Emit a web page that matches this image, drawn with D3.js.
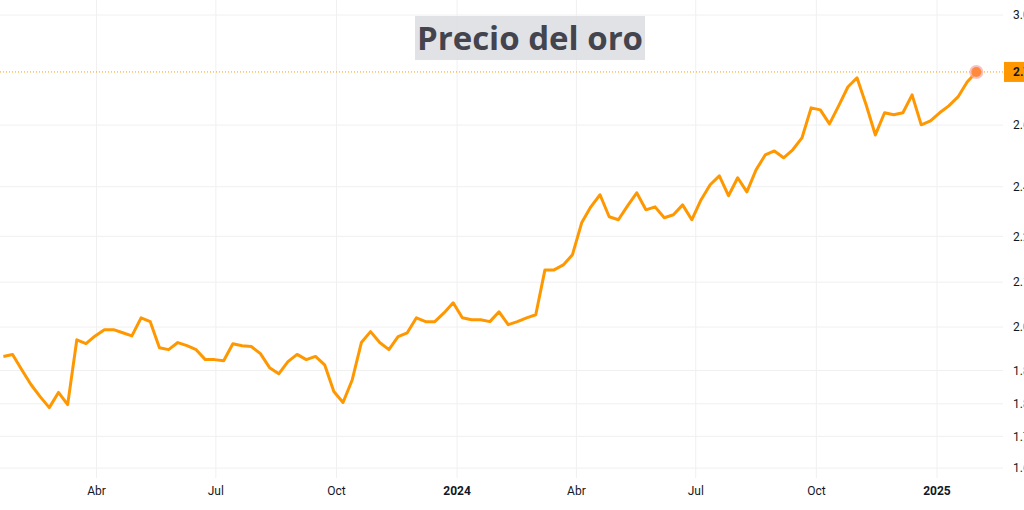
<!DOCTYPE html>
<html><head><meta charset="utf-8">
<script src="https://cdn.jsdelivr.net/npm/d3@7"></script>
<style>body{margin:0;background:#fff}svg{display:block}</style>
</head><body>
<svg id="c" width="1024" height="510"></svg>
<script>
const startDate = "2023-01-20";
const prices = [1925,1930,1892,1856,1827,1801,1837,1808,1967,1957,1977,1993,1993,1985,1977,2024,2014,1947,1942,1960,
1952,1942,1917,1917,1914,1957,1952,1950,1932,1897,1882,1912,1930,1917,1925,1904,1839,1813,1867,1960,
1988,1960,1942,1975,1985,2024,2014,2014,2037,2064,2024,2019,2019,2014,2040,2006,2014,2024,2032,2154,
2154,2168,2197,2290,2338,2375,2308,2299,2341,2381,2329,2338,2305,2314,2344,2299,2359,2406,2434,2372,
2428,2384,2453,2501,2514,2492,2518,2557,2659,2652,2604,2666,2732,2765,2669,2567,2642,2635,2642,2704,
2601,2614,2642,2666,2697,2750,2786];
const yTicks = [3000,2600,2400,2250,2120,2000,1890,1810,1735,1665];
const xTicks = ["2023-04-01","2023-07-01","2023-10-01","2024-01-01","2024-04-01","2024-07-01","2024-10-01","2025-01-01"];
const xTickLabels = ["Abr","Jul","Oct","2024","Abr","Jul","Oct","2025"];
const title = "Precio del oro";

const parse = d3.utcParse("%Y-%m-%d");
const t0 = parse(startDate);
const data = prices.map((p,i)=>({d:d3.utcDay.offset(t0,i*7),p}));

const svg = d3.select("#c");
const plotR = 1003, plotB = 478;
const x = d3.scaleUtc().domain([parse("2023-01-01"),parse("2025-01-01")]).range([457-365*1.311,937]);
const y = d3.scaleLog().domain([2000,3000]).range([327,15]);

const g = svg.append("g");
g.selectAll("line.h").data(yTicks).join("line")
 .attr("x1",0).attr("x2",plotR).attr("y1",d=>y(d)).attr("y2",d=>y(d))
 .attr("stroke","#f0f0f0").attr("stroke-width",1);
g.selectAll("line.v").data(xTicks).join("line")
 .attr("x1",d=>x(parse(d))).attr("x2",d=>x(parse(d))).attr("y1",0).attr("y2",plotB)
 .attr("stroke","#f0f0f0").attr("stroke-width",1);

const fmt = d3.formatLocale({decimal:",",thousands:".",grouping:[3],currency:["","€"]}).format(",d");
svg.append("g").selectAll("text").data(yTicks).join("text")
 .attr("x",1013).attr("y",d=>y(d)).attr("dy","0.35em")
 .attr("font-family","Roboto, sans-serif").attr("font-size",12).attr("fill","#131722")
 .text(d=>fmt(d));

svg.append("g").selectAll("text").data(xTicks).join("text")
 .attr("x",d=>x(parse(d))).attr("y",495).attr("text-anchor","middle")
 .attr("font-family","Roboto, sans-serif").attr("font-size",12)
 .attr("font-weight",(d,i)=>xTickLabels[i].length===4?"bold":"normal")
 .attr("fill","#131722").text((d,i)=>xTickLabels[i]);

const tg = svg.append("g");
tg.append("rect").attr("x",415).attr("y",16).attr("width",230).attr("height",44)
 .attr("fill","#dcdde0").attr("opacity",0.85);
tg.append("text").attr("x",530).attr("y",50).attr("text-anchor","middle")
 .attr("font-family","'Open Sans', sans-serif").attr("font-weight","bold").attr("font-size",33)
 .attr("fill","#44444e").text(title);

const last = data[data.length-1];
svg.append("line").attr("x1",0).attr("x2",1004).attr("y1",y(last.p)).attr("y2",y(last.p))
 .attr("stroke","#ff9800").attr("stroke-width",1).attr("stroke-dasharray","1,2");

svg.append("path").datum(data)
 .attr("d",d3.line().x(d=>x(d.d)).y(d=>y(d.p)))
 .attr("fill","none").attr("stroke","#ff9800").attr("stroke-width",3).attr("stroke-linejoin","round");

svg.append("circle").attr("cx",x(last.d)).attr("cy",y(last.p)).attr("r",7).attr("fill","#f7a8a8").attr("opacity",0.7);
svg.append("circle").attr("cx",x(last.d)).attr("cy",y(last.p)).attr("r",5).attr("fill","#ff8a3d");

svg.append("rect").attr("x",1004).attr("y",y(last.p)-10).attr("width",40).attr("height",20).attr("fill","#ff9800");
svg.append("text").attr("x",1013).attr("y",y(last.p)).attr("dy","0.35em")
 .attr("font-family","Roboto, sans-serif").attr("font-size",12).attr("font-weight","bold").attr("fill","#131722")
 .text(fmt(last.p));
</script>
</body></html>
